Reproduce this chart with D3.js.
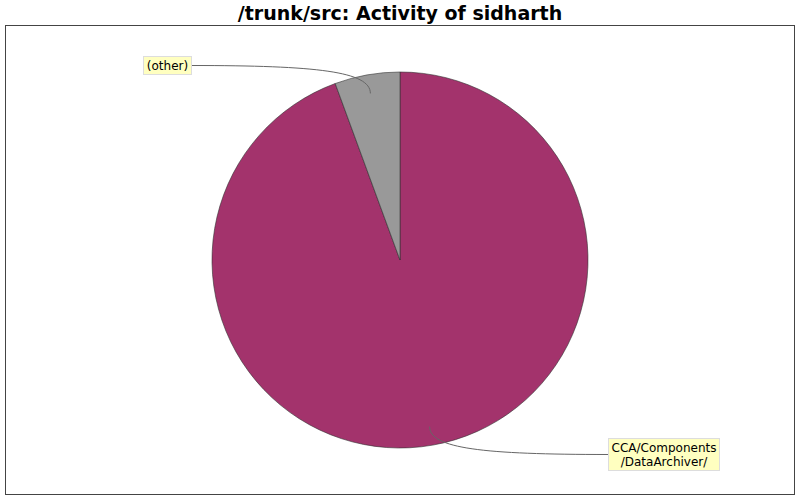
<!DOCTYPE html>
<html>
<head>
<meta charset="utf-8">
<script src="https://cdn.jsdelivr.net/npm/d3@7"></script>
<style>
body { margin: 0; background: #fff; }
</style>
</head>
<body>
<div id="chart"></div>
<script>
var w = 800,
  h = 500;

var title = "/trunk/src: Activity of sidharth";
var categories = ["CCA/Components\n/DataArchiver/", "(other)"];
var values = [94.4, 5.6];
var colors = ["#a3336c", "#999999"];

var cx = 400, cy = 260, radius = 188;

var svg = d3.select("#chart").append("svg").attr("width", w).attr("height", h);

svg.append("text").attr("x", w / 2).attr("y", 20).attr("text-anchor", "middle")
  .style("font-family", "DejaVu Sans").style("font-weight", "bold").style("font-size", "19px")
  .text(title);

svg.append("rect").attr("x", 5.5).attr("y", 25.5).attr("width", 789).attr("height", 469)
  .style("fill", "#fff").style("stroke", "#444").style("stroke-width", 1);

// clockwise from 12 o'clock
var pie = d3.pie().sort(null);
var arc = d3.arc().innerRadius(0).outerRadius(radius);

var g = svg.append("g").attr("transform", "translate(" + cx + "," + cy + ")");
var arcs = pie(values);

g.selectAll("path").data(arcs).enter().append("path")
  .attr("d", arc)
  .style("fill", function (d, i) { return colors[i]; })
  .style("stroke", "#333").style("stroke-width", 0.6);

// label boxes: x, y, width, height
var labelBoxes = [[608.5, 438.5, 111, 32], [143.5, 56.5, 48, 18]];

arcs.forEach(function (d, i) {
  var mid = (d.startAngle + d.endAngle) / 2;
  var ar = radius * 0.9;
  var ax = cx + ar * Math.sin(mid), ay = cy - ar * Math.cos(mid);
  var b = labelBoxes[i];
  var ly = b[1] + b[3] / 2;
  var right = b[0] > cx;
  var lx = right ? b[0] : b[0] + b[2];
  var oy = ay > cy ? 1 : -1;
  var path = d3.path();
  path.moveTo(ax, ay);
  path.bezierCurveTo(ax, ay + oy * 22, ax + (lx - ax) * 0.3, ly, lx, ly);
  svg.append("path").attr("d", path.toString())
    .style("fill", "none").style("stroke", "#666").style("stroke-width", 1);

  svg.append("rect").attr("x", b[0]).attr("y", b[1]).attr("width", b[2]).attr("height", b[3])
    .style("fill", "#ffffc0").style("stroke", "#dddddd");
  var lines = categories[i].split("\n");
  var t = svg.append("text").attr("text-anchor", "middle")
    .style("font-family", "DejaVu Sans").style("font-size", "12px").style("fill", "#000");
  lines.forEach(function (s, k) {
    t.append("tspan").attr("x", b[0] + b[2] / 2)
      .attr("y", b[1] + 13 + k * 14).text(s);
  });
});
</script>
</body>
</html>
